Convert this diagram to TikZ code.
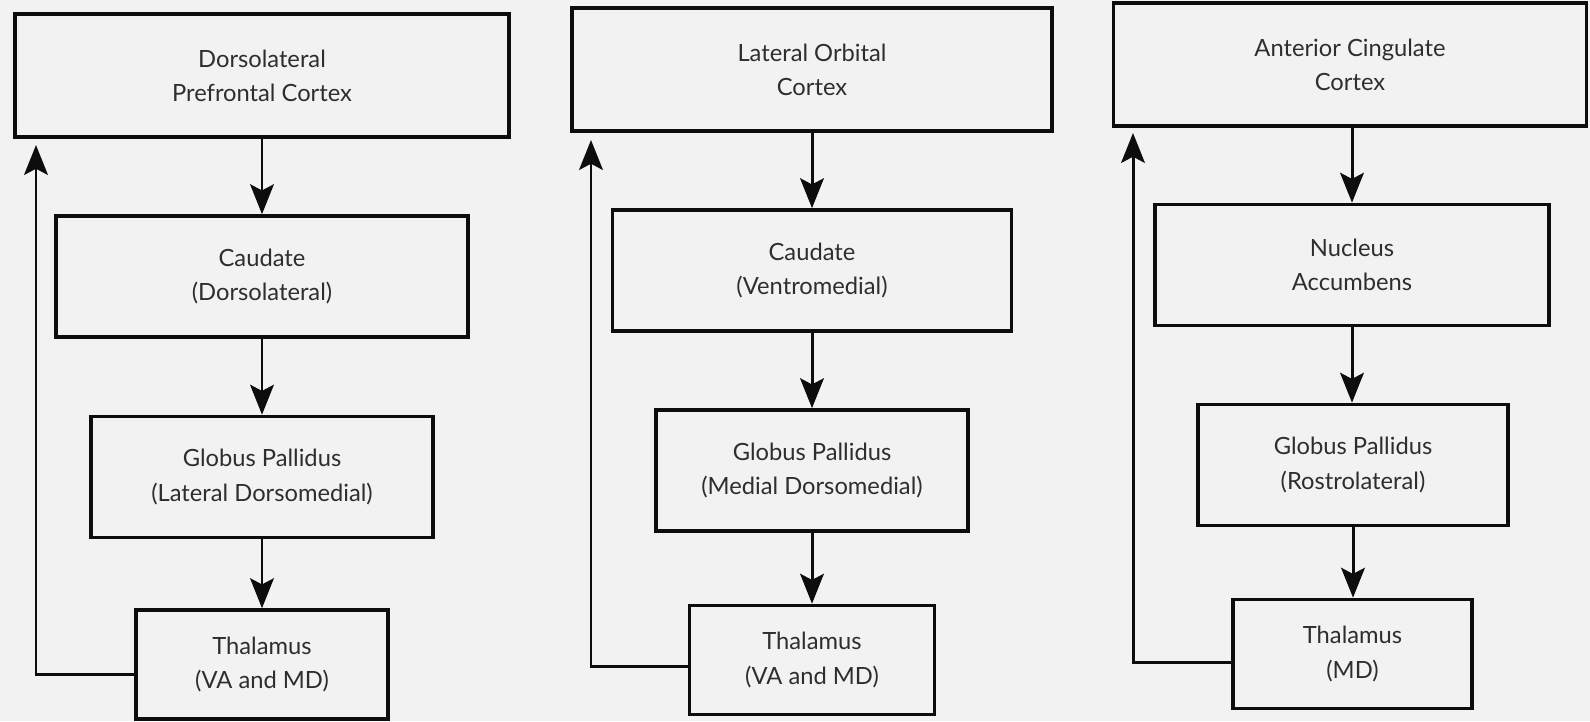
\documentclass[tikz,border=0pt]{standalone}
\usepackage{fontspec}
\setmainfont{Lato}
\usetikzlibrary{arrows.meta}
\colorlet{Cpage}{black!5}
\colorlet{Cline}{black!95}
\colorlet{Ctext}{black!82}
\tikzset{
  regbox/.style={draw=Cline, line width=2.1pt, align=center, text=Ctext,
    font=\fontsize{13.5}{19.5}\selectfont},
  ctxbox/.style={regbox, minimum height=2.45cm},
  midbox/.style={regbox, minimum height=2.42cm},
  thalbox/.style={regbox, minimum height=2.18cm},
  arr/.style={-{Stealth[length=17pt, width=13.5pt, inset=3.5pt]}, line width=1.7pt, Cline},
}
\begin{document}
\begin{tikzpicture}
\useasboundingbox (0,0) rectangle (31.8,-14.42);
\fill[Cpage] (0,0) rectangle (31.8,-14.42);

%%==========================================================================
%% LEFT COLUMN -- dorsolateral prefrontal loop
%%==========================================================================
\node[ctxbox, minimum width=9.88cm]  (dlpfc) at (5.24, -1.51)  {Dorsolateral\\Prefrontal Cortex};
\node[midbox, minimum width=8.24cm]  (cd1)   at (5.24, -5.53)  {Caudate\\(Dorsolateral)};
\node[midbox, minimum width=6.84cm]  (gp1)   at (5.24, -9.54)  {Globus Pallidus\\(Lateral Dorsomedial)};
\node[thalbox, minimum width=5.04cm] (th1)   at (5.24, -13.29) {Thalamus\\(VA and MD)};
\coordinate (fb1) at (0.72, -2.90);

\draw[arr] (dlpfc) -- (cd1);
\draw[arr] (cd1) -- (gp1);
\draw[arr] (gp1) -- (th1);
\draw[arr] ([yshift=-0.19cm]th1.west) -| (fb1);

%%==========================================================================
%% MIDDLE COLUMN -- lateral orbital loop
%%==========================================================================
\node[ctxbox, minimum width=9.60cm]  (lofc) at (16.24, -1.39)  {Lateral Orbital\\Cortex};
\node[midbox, minimum width=7.98cm]  (cd2)  at (16.24, -5.41)  {Caudate\\(Ventromedial)};
\node[midbox, minimum width=6.24cm]  (gp2)  at (16.24, -9.41)  {Globus Pallidus\\(Medial Dorsomedial)};
\node[thalbox, minimum width=4.90cm] (th2)  at (16.24, -13.20) {Thalamus\\(VA and MD)};
\coordinate (fb2) at (11.82, -2.80);

\draw[arr] (lofc) -- (cd2);
\draw[arr] (cd2) -- (gp2);
\draw[arr] (gp2) -- (th2);
\draw[arr] ([yshift=-0.12cm]th2.west) -| (fb2);

%%==========================================================================
%% RIGHT COLUMN -- anterior cingulate loop
%%==========================================================================
\node[ctxbox, minimum width=9.46cm]  (acc) at (27.00, -1.29)  {Anterior Cingulate\\Cortex};
\node[midbox, minimum width=7.88cm]  (nac) at (27.04, -5.30)  {Nucleus\\Accumbens};
\node[midbox, minimum width=6.20cm]  (gp3) at (27.06, -9.30)  {Globus Pallidus\\(Rostrolateral)};
\node[thalbox, minimum width=4.78cm] (th3) at (27.05, -13.08) {Thalamus\\(MD)};
\coordinate (fb3) at (22.66, -2.66);

\draw[arr] (acc.south -| nac.north) -- (nac);
\draw[arr] (nac) -- (nac |- gp3.north);
\draw[arr] (gp3) -- (gp3 |- th3.north);
\draw[arr] ([yshift=-0.16cm]th3.west) -| (fb3);

\end{tikzpicture}
\end{document}
